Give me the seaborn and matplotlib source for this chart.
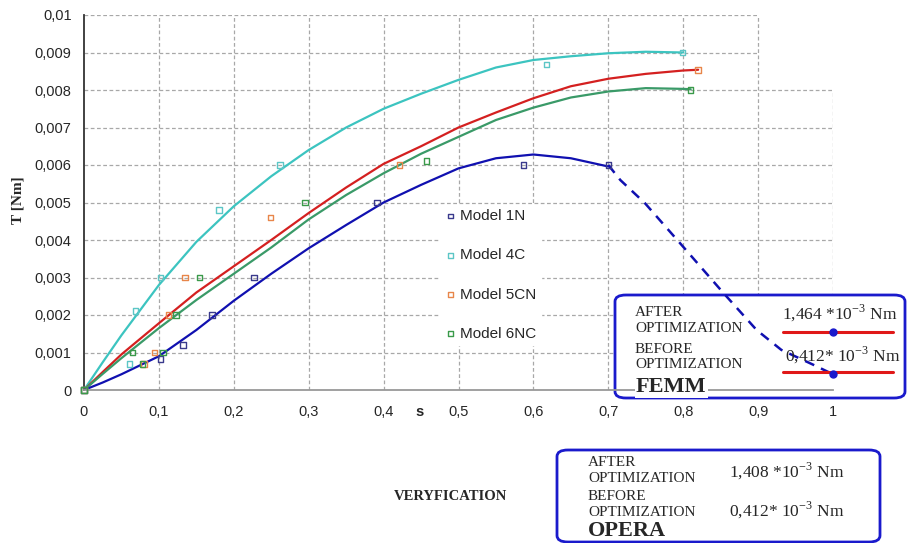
import numpy as np
import pandas as pd
import matplotlib
matplotlib.use("Agg")
import matplotlib.pyplot as plt
from matplotlib.patches import FancyBboxPatch
import seaborn as sns

# measured points (s, T[Nm])
m1n_s = [0, 0.102, 0.132, 0.171, 0.227, 0.391, 0.587, 0.70]
m1n_t = [0, 0.00083, 0.0012, 0.002, 0.003, 0.005, 0.006, 0.006]
m4c_s = [0, 0.0605, 0.0685, 0.102, 0.180, 0.262, 0.6175, 0.799]
m4c_t = [0, 0.0007, 0.0021, 0.003, 0.0048, 0.006, 0.00868, 0.009]
m5cn_s = [0, 0.080, 0.094, 0.113, 0.135, 0.249, 0.421, 0.82]
m5cn_t = [0, 0.0007, 0.001, 0.002, 0.003, 0.0046, 0.006, 0.00853]
m6nc_s = [0, 0.0645, 0.078, 0.1055, 0.123, 0.154, 0.295, 0.4575, 0.81]
m6nc_t = [0, 0.001, 0.0007, 0.001, 0.002, 0.003, 0.005, 0.0061, 0.008]

# trend lines
trend_s = [0, 0.025, 0.05, 0.1, 0.15, 0.2, 0.25, 0.3, 0.35, 0.4, 0.45, 0.5, 0.55, 0.6, 0.65, 0.7, 0.75, 0.8]
t4c = [0, 0.00074, 0.00146, 0.0028, 0.00395, 0.0049, 0.0057, 0.0064, 0.0070, 0.0075, 0.0079, 0.00827, 0.0086, 0.0088, 0.0089, 0.00898, 0.00902, 0.0090]
t5cn = [0, 0.00048, 0.00095, 0.00178, 0.0026, 0.0033, 0.0040, 0.00472, 0.0054, 0.00603, 0.0065, 0.0070, 0.0074, 0.00778, 0.0081, 0.0083, 0.00843, 0.00852]
t6nc = [0, 0.00043, 0.00085, 0.00165, 0.0024, 0.0031, 0.0038, 0.00455, 0.0052, 0.00578, 0.0063, 0.00675, 0.0072, 0.00753, 0.0078, 0.00796, 0.00805, 0.00803]
t1n = [0, 0.0002, 0.00042, 0.0009, 0.0016, 0.00238, 0.0031, 0.00378, 0.0044, 0.00500, 0.00547, 0.00591, 0.00618, 0.00628, 0.00618, 0.00596]
dash1n_s = [0.70, 0.716, 0.749, 0.796, 0.854, 0.898, 0.931, 0.974, 1.0]
dash1n_t = [0.006, 0.0056, 0.00498, 0.00391, 0.00258, 0.0016, 0.00107, 0.00067, 0.00042]

femm_after_t = 0.00155
femm_before_t = 0.00042

xticks = [0, 0.1, 0.2, 0.3, 0.4, 0.5, 0.6, 0.7, 0.8, 0.9, 1.0]
xlabels = ["0", "0,1", "0,2", "0,3", "0,4", "0,5", "0,6", "0,7", "0,8", "0,9", "1"]
yticks = [0, 0.001, 0.002, 0.003, 0.004, 0.005, 0.006, 0.007, 0.008, 0.009, 0.01]
ylabels = ["0", "0,001", "0,002", "0,003", "0,004", "0,005", "0,006", "0,007", "0,008", "0,009", "0,01"]

sns.set_style("white")
plt.rcParams["font.family"] = ["Liberation Sans", "DejaVu Sans"]
plt.rcParams["mathtext.fontset"] = "custom"
plt.rcParams["mathtext.rm"] = "Liberation Serif"

W, H = 907, 543
fig = plt.figure(figsize=(W / 100, H / 100), dpi=100)
ax = fig.add_axes([84 / W, 1 - 390 / H, (833 - 84) / W, (390 - 15) / H])

def fx(px):
    return px / W

def fy(py):
    return 1 - py / H

# grid (partly cut in the top-right corner like the original)
gkw = dict(color="#a8a8a8", lw=0.9, linestyles=(0, (3, 2)), zorder=0.5)
for y in yticks[1:]:
    ax.hlines(y, 0, 0.9 if y > 0.0085 else 1.0, **gkw)
for x in xticks[1:]:
    ax.vlines(x, 0, 0.01 if x < 0.95 else 0.008, **gkw)

c1n, c4c, c5cn, c6nc = "#1010b0", "#3cc4c0", "#d42020", "#3a9a68"
mk1n, mk4c, mk5cn, mk6nc = "#3a3a8c", "#5cc6c6", "#e8864a", "#3a9a4a"

sns.lineplot(x=trend_s, y=t4c, ax=ax, color=c4c, lw=1.6, estimator=None, sort=False)
sns.lineplot(x=trend_s + [0.82], y=t5cn + [0.00854], ax=ax, color=c5cn, lw=1.6, estimator=None, sort=False)
sns.lineplot(x=trend_s + [0.81], y=t6nc + [0.00802], ax=ax, color=c6nc, lw=1.6, estimator=None, sort=False)
sns.lineplot(x=trend_s[:16], y=t1n, ax=ax, color=c1n, lw=1.6, estimator=None, sort=False)
ax.plot(dash1n_s, dash1n_t, color=c1n, lw=1.8, ls=(0, (4, 3)), zorder=3, clip_on=False)

for s, t, col, lab in [(m1n_s, m1n_t, mk1n, "Model 1N"), (m4c_s, m4c_t, mk4c, "Model 4C"),
                       (m5cn_s, m5cn_t, mk5cn, "Model 5CN"), (m6nc_s, m6nc_t, mk6nc, "Model 6NC")]:
    sns.scatterplot(x=s, y=t, ax=ax, marker="s", s=16, facecolor="none", edgecolor=col,
                    linewidth=1.0, label=lab, clip_on=False, zorder=4)

ax.set_xlim(0, 1)
ax.set_ylim(0, 0.01)
ax.set_xticks(xticks)
ax.set_xticklabels(xlabels)
ax.set_yticks(yticks)
ax.set_yticklabels(ylabels)
ax.tick_params(axis="y", direction="out", length=5, width=1, pad=4, labelsize=10.5, color="#333333")
ax.tick_params(axis="x", direction="in", length=4, width=1, pad=11, labelsize=10.5, color="#999999")
ax.set_xlabel("")
ax.set_ylabel("")
for side in ["top", "right"]:
    ax.spines[side].set_visible(False)
ax.spines["left"].set_color("#333333")
ax.spines["left"].set_linewidth(1.3)
ax.spines["bottom"].set_color("#999999")
ax.spines["bottom"].set_linewidth(1.3)

leg = ax.legend(loc="upper left", bbox_to_anchor=(0.465, 0.515), frameon=True, fontsize=11,
                labelspacing=1.65, handletextpad=0.2, handlelength=0.8, borderpad=0.3,
                markerscale=0.8)
leg.get_frame().set_facecolor("white")
leg.get_frame().set_edgecolor("white")
leg.get_frame().set_alpha(1)

fig.text(fx(18), fy(200), "T [Nm]", rotation=90, ha="center", va="center",
         fontsize=11, fontweight="bold", family="Liberation Serif")
fig.text(fx(420), fy(412), "s", ha="center", va="center", fontsize=10.5, fontweight="bold")

# FEMM box
femm = FancyBboxPatch((fx(615), fy(398)), fx(905) - fx(615), fy(295) - fy(398),
                      boxstyle="round,pad=0,rounding_size=0.012", transform=fig.transFigure,
                      facecolor="white", edgecolor="#1a1acc", lw=2, clip_on=False, zorder=2)
ax.add_artist(femm)
ax.plot([0.933, 1.08], [femm_after_t, femm_after_t], color="#e01818", lw=2.2, clip_on=False, zorder=3.5)
ax.plot([0.933, 1.08], [femm_before_t + 0.00007, femm_before_t + 0.00007], color="#e01818", lw=2.2,
        clip_on=False, zorder=3.5)
ax.plot([1.0, 1.0], [femm_after_t, femm_before_t], "o", color="#1a1acc", ms=5, clip_on=False, zorder=4)

serif = "Liberation Serif"
tkw = dict(family=serif, fontsize=11, linespacing=1.25, ha="left", va="top", zorder=5)
ax.text(fx(635), fy(306), "AFTER\nOPTIMIZATION", transform=fig.transFigure, **tkw)
ax.text(fx(635), fy(343), "BEFORE\nOPTIMIZATION", transform=fig.transFigure, **tkw)
ax.text(fx(782), fy(313), r"1,464 *10$^{\mathrm{-3}}$ Nm", transform=fig.transFigure,
        family=serif, fontsize=12.5, ha="left", va="center", zorder=5)
ax.text(fx(785), fy(355), r"0,412* 10$^{\mathrm{-3}}$ Nm", transform=fig.transFigure,
        family=serif, fontsize=12.5, ha="left", va="center", zorder=5)
ax.text(fx(636), fy(387), "FEMM", transform=fig.transFigure, family=serif, fontsize=16,
        fontweight="bold", ha="left", va="center", zorder=5,
        bbox=dict(facecolor="white", edgecolor="none", pad=1))

# OPERA box
opera = FancyBboxPatch((fx(557), fy(542)), fx(880) - fx(557), fy(450) - fy(542),
                       boxstyle="round,pad=0,rounding_size=0.012", transform=fig.transFigure,
                       facecolor="white", edgecolor="#1a1acc", lw=2)
fig.add_artist(opera)
fig.text(fx(588), fy(456), "AFTER\nOPTIMIZATION", family=serif, fontsize=11, linespacing=1.25,
         ha="left", va="top")
fig.text(fx(588), fy(490), "BEFORE\nOPTIMIZATION", family=serif, fontsize=11, linespacing=1.25,
         ha="left", va="top")
fig.text(fx(729), fy(471), r"1,408 *10$^{\mathrm{-3}}$ Nm", family=serif, fontsize=12.5,
         ha="left", va="center")
fig.text(fx(729), fy(510), r"0,412* 10$^{\mathrm{-3}}$ Nm", family=serif, fontsize=12.5,
         ha="left", va="center")
fig.text(fx(588), fy(531), "OPERA", family=serif, fontsize=16, fontweight="bold",
         ha="left", va="center")
fig.text(fx(450), fy(497), "VERYFICATION", family=serif, fontsize=10.5, fontweight="bold",
         ha="center", va="center")

fig.savefig("out.png", dpi=100)
